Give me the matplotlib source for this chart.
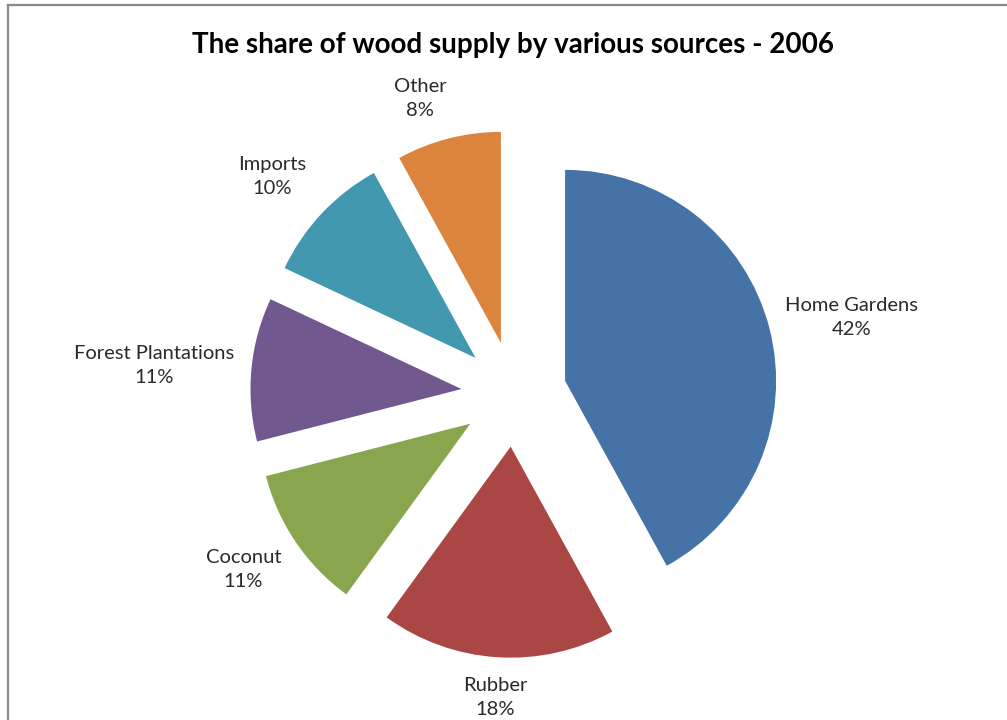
import numpy as np
import matplotlib
matplotlib.use('Agg')
import matplotlib.pyplot as plt
from matplotlib.lines import Line2D

plt.rcParams['font.family'] = ['Lato', 'DejaVu Sans']

sources = ['Home Gardens', 'Rubber', 'Coconut', 'Forest Plantations', 'Imports', 'Other']
shares = [42, 18, 11, 11, 10, 8]
colors = ['#4572A7', '#AA4643', '#89A54E', '#71588F', '#4198AF', '#DB843D']

# label placement: distance from centre (radius units) and angle nudge (degrees)
label_dist = [1.64, 1.44, 1.53, 1.71, 1.54, 1.47]
label_turn = [-1.7, 0.0, -1.2, 0.9, 1.3, 3.2]

W, H = 1007, 720
fig = plt.figure(figsize=(W / 100, H / 100), dpi=100)
ax = fig.add_axes([0, 0, 1, 1])

wedges, _ = ax.pie(shares, colors=colors, startangle=90, counterclock=False,
                   explode=[0.25] * len(shares), radius=1.0,
                   wedgeprops=dict(linewidth=0))

# pie centre and radius in pixels
cx, cy, r = 514, 394, 211
ax.set_xlim(-cx / r, (W - cx) / r)
ax.set_ylim(-(H - cy) / r, cy / r)
ax.set_aspect('equal')
ax.axis('off')

for w, name, val, d, t in zip(wedges, sources, shares, label_dist, label_turn):
    mid = np.deg2rad((w.theta1 + w.theta2) / 2 + t)
    ax.text(d * np.cos(mid), d * np.sin(mid), '{}\n{}%'.format(name, val),
            ha='center', va='center', fontsize=14.5, color='#2a2a2a',
            linespacing=1.5)

fig.text(513 / W, 1 - 45 / H, 'The share of wood supply by various sources - 2006',
         ha='center', va='center', fontsize=20, fontweight='bold', color='black')

# chart frame (only top and left edges are visible)
fig.add_artist(Line2D([7.5 / W, 7.5 / W], [0, 1 - 4.5 / H], transform=fig.transFigure,
                      color='#888888', linewidth=1.6))
fig.add_artist(Line2D([7.5 / W, 1], [1 - 4.5 / H, 1 - 4.5 / H], transform=fig.transFigure,
                      color='#888888', linewidth=1.6))

fig.savefig('out.png', dpi=100)
